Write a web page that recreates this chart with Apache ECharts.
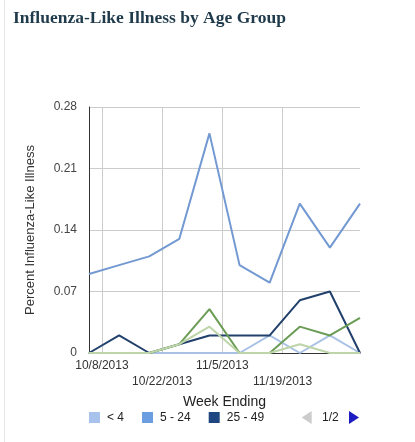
<!DOCTYPE html>
<html>
<head>
<meta charset="utf-8">
<script src="https://cdn.jsdelivr.net/npm/echarts@6/dist/echarts.min.js"></script>
<style>
html,body{margin:0;padding:0;background:#fff;}
#chart{width:415px;height:442px;position:absolute;left:0;top:0;}
#edge{position:absolute;left:4px;top:0;width:1px;height:442px;background:#e8e8e8;}
</style>
</head>
<body>
<div id="edge"></div>
<div id="chart"></div>
<script>
// Week-ending dates of the data points
const weeks = ['2013-10-05','2013-10-12','2013-10-19','2013-10-26','2013-11-02','2013-11-09','2013-11-16','2013-11-23','2013-11-30','2013-12-07'];
// Series names
const seriesNames = ['< 4', '5 - 24', '25 - 49', '50 - 64', '65+'];
// Percent ILI per age group
const ageUnder4 = [0, 0, 0, 0, 0, 0, 0.02, 0, 0.02, 0];
const age5to24 = [0.09, 0.10, 0.11, 0.13, 0.25, 0.10, 0.08, 0.17, 0.12, 0.17];
const age25to49 = [0, 0.02, 0, 0.01, 0.02, 0.02, 0.02, 0.06, 0.07, 0];
const age50to64 = [0, 0, 0, 0.01, 0.05, 0, 0, 0.03, 0.02, 0.04];
const age65plus = [0, 0, 0, 0.01, 0.03, 0, 0, 0.01, 0, 0];
// X tick dates and labels
const tickDates = ['2013-10-08','2013-10-22','2013-11-05','2013-11-19'];
const tickLabels = ['10/8/2013','10/22/2013','11/5/2013','11/19/2013'];
// Y ticks
const yTicks = [0, 0.07, 0.14, 0.21, 0.28];

const DAY = 86400000;
function ts(s){ const p = s.split('-'); return Date.UTC(+p[0], +p[1]-1, +p[2]); }
const t0 = ts(weeks[0]);
// day offsets from the first week-ending date (a linear date scale)
const weekDay = weeks.map(function(s){ return Math.round((ts(s) - t0) / DAY); });
const tickDay = tickDates.map(function(s){ return Math.round((ts(s) - t0) / DAY); });

const lineColors = ['#a9c1e4', '#7399d2', '#22406c', '#6b9c55', '#bdd5a8'];
const swatchColors = ['#a7c3ec', '#6b9ee0', '#1f4680', '#6b9c55', '#bdd5a8'];
const allData = [ageUnder4, age5to24, age25to49, age50to64, age65plus];

const chart = echarts.init(document.getElementById('chart'), null, {renderer:'canvas'});
chart.setOption({
  animation: false,
  backgroundColor: 'transparent',
  title: {
    text: 'Influenza-Like Illness by Age Group',
    left: 8, top: 4,
    textStyle: {fontFamily: 'Liberation Serif', fontWeight: 'bold', fontSize: 17.5, color: '#1f3a4b'}
  },
  legend: {
    type: 'scroll',
    data: seriesNames,
    left: 84, top: 406, width: 270,
    icon: 'rect', itemWidth: 11, itemHeight: 11, itemGap: 18,
    textStyle: {fontFamily: 'Liberation Sans', fontSize: 12, color: '#222', padding: [0, 0, 0, 2]},
    pageButtonPosition: 'end',
    pageButtonGap: 24,
    pageFormatter: '{current}/{total}',
    pageIcons: {
      horizontal: ['path://M0,0L10,-6.5L10,6.5z', 'path://M10,0L0,-6.5L0,6.5z'],
      vertical: ['path://M0,0L10,-6.5L10,6.5z', 'path://M10,0L0,-6.5L0,6.5z']
    },
    pageIconColor: '#1c1cc0',
    pageIconInactiveColor: '#cccccc',
    pageIconSize: [10, 13],
    pageButtonItemGap: 5,
    pageTextStyle: {fontFamily: 'Liberation Sans', fontSize: 12, color: '#222'}
  },
  grid: {left: 89, right: 55, top: 107, bottom: 89, containLabel: false},
  xAxis: {
    type: 'value',
    min: weekDay[0], max: weekDay[weekDay.length-1],
    name: 'Week Ending', nameLocation: 'middle', nameGap: 41,
    nameTextStyle: {fontFamily: 'Liberation Sans', fontSize: 14, color: '#222'},
    axisLine: {show: true, lineStyle: {color: '#333', width: 1}},
    axisTick: {show: false, customValues: tickDay},
    splitLine: {show: true, lineStyle: {color: '#cccccc', width: 1}},
    axisLabel: {
      customValues: tickDay,
      margin: 5,
      fontFamily: 'Liberation Sans', fontSize: 12, color: '#333', lineHeight: 16,
      hideOverlap: false,
      formatter: function(v){
        const i = tickDay.indexOf(Math.round(v));
        const t = i >= 0 ? tickLabels[i] : '';
        return (i % 2 === 1) ? '\n' + t : t;
      }
    }
  },
  yAxis: {
    type: 'value',
    min: yTicks[0], max: yTicks[yTicks.length-1], interval: 0.07,
    name: 'Percent Influenza-Like Illness', nameLocation: 'middle', nameGap: 52, nameRotate: 90,
    nameTextStyle: {fontFamily: 'Liberation Sans', fontSize: 13, color: '#333'},
    axisLine: {show: true, lineStyle: {color: '#333', width: 1}},
    axisTick: {show: false},
    splitLine: {show: true, lineStyle: {color: '#cccccc', width: 1}},
    axisLabel: {
      margin: 12, fontFamily: 'Liberation Sans', fontSize: 12, color: '#444',
      formatter: function(v){ return String(+v.toFixed(2)); }
    }
  },
  series: seriesNames.map(function(name, k){
    return {
      name: name, type: 'line',
      data: weekDay.map(function(d, i){ return [d, allData[k][i]]; }),
      showSymbol: false, symbol: 'none',
      itemStyle: {color: swatchColors[k]},
      lineStyle: {color: lineColors[k], width: 2},
      emphasis: {disabled: true}
    };
  })
});
</script>
</body>
</html>
